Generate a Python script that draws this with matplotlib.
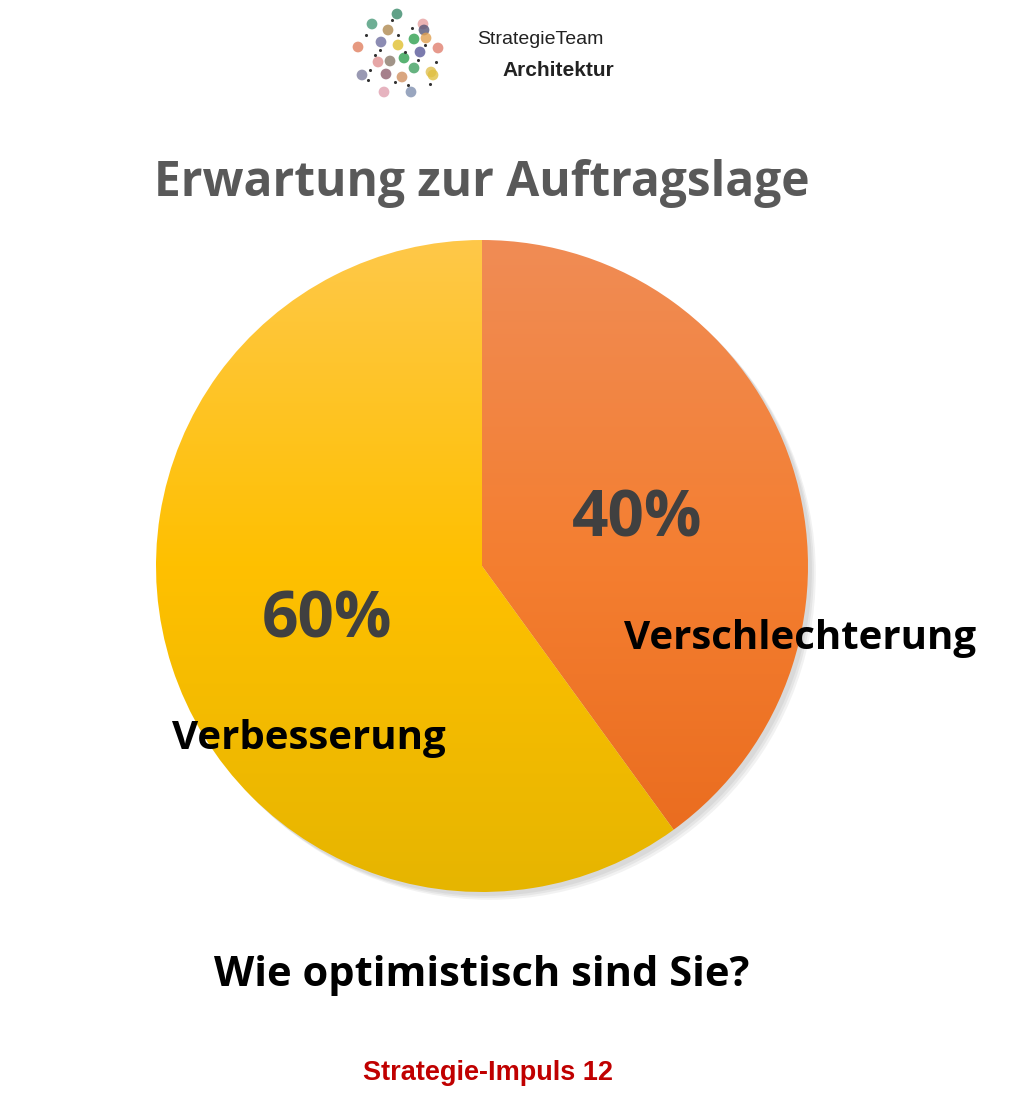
import numpy as np
import matplotlib.pyplot as plt
from matplotlib.colors import LinearSegmentedColormap
from matplotlib.patches import Circle

# data
labels = ['Verschlechterung', 'Verbesserung']
shares = [40, 60]
pct_text = ['40%', '60%']
# gradient colours (top, middle, bottom) per slice
grad_colors = [('#F08C55', '#F47E30', '#E8691C'), ('#FEC849', '#FFC000', '#E6B500')]

fig = plt.figure(figsize=(10.10, 11.12), dpi=100)
fig.patch.set_facecolor('white')

# pie axes placed at the pie's pixel box (with margin for shadow)
W, H = 1010, 1112
cx, cy, r = 482, 566, 326
m = 1.05
ax = fig.add_axes([(cx - m * r) / W, (H - cy - m * r) / H, 2 * m * r / W, 2 * m * r / H])

# soft shadow
for k, a in enumerate([0.05, 0.05, 0.05]):
    ax.add_patch(Circle((0.012 + k * 0.006, -0.012 - k * 0.006), 1.0,
                        color='black', alpha=a, lw=0, zorder=0))

wedges, _ = ax.pie(shares, startangle=90, counterclock=False, radius=1.0,
                   wedgeprops=dict(linewidth=0))
grad = np.linspace(1, 0, 256).reshape(-1, 1)
for w, cols in zip(wedges, grad_colors):
    w.set_facecolor('none')
    cmap = LinearSegmentedColormap.from_list('g', cols[::-1])
    im = ax.imshow(grad, cmap=cmap, extent=[-1, 1, -1, 1], aspect='auto',
                   origin='upper', vmin=0, vmax=1, zorder=1)
    im.set_clip_path(w)
ax.set_xlim(-m, m)
ax.set_ylim(-m, m)
ax.set_aspect('equal')
ax.axis('off')

# slice texts (figure pixel positions)
def px(x, y):
    return x / W, 1 - y / H

fig.text(*px(637, 520), pct_text[0], ha='center', va='center', fontsize=46,
         fontweight='bold', color='#404040', family='Open Sans')
fig.text(*px(327, 621), pct_text[1], ha='center', va='center', fontsize=46,
         fontweight='bold', color='#404040', family='Open Sans')
fig.text(*px(800, 638), labels[0], ha='center', va='center', fontsize=29,
         fontweight='bold', color='black', family='Open Sans')
fig.text(*px(309, 738), labels[1], ha='center', va='center', fontsize=29,
         fontweight='bold', color='black', family='Open Sans')

# titles
fig.text(*px(482, 183), 'Erwartung zur Auftragslage', ha='center', va='center',
         fontsize=34.5, fontweight='bold', color='#595959', family='Open Sans')
fig.text(*px(482, 975), 'Wie optimistisch sind Sie?', ha='center', va='center',
         fontsize=30, fontweight='bold', color='black', family='Open Sans')
fig.text(*px(488, 1073), 'Strategie-Impuls 12', ha='center', va='center',
         fontsize=19.5, fontweight='bold', color='#C00000', family='Liberation Sans')

# logo
fig.text(*px(477, 40), 'StrategieTeam', ha='left', va='center', fontsize=14,
         color='#222222', family='Liberation Sans')
fig.text(*px(502, 70), 'Architektur', ha='left', va='center', fontsize=15,
         fontweight='bold', color='#222222', family='Liberation Sans')
logo_x = [397, 372, 388, 423, 424, 381, 398, 414, 426, 358, 438, 420, 404, 378,
          390, 414, 431, 362, 386, 402, 433, 384, 411]
logo_y = [14, 24, 30, 24, 30, 42, 45, 39, 38, 47, 48, 52, 58, 62, 61, 68, 72,
          75, 74, 77, 75, 92, 92]
logo_c = ['#3a8a6a', '#4a9a7a', '#b08a50', '#e6a0a0', '#555577', '#7070a0',
          '#e0c030', '#30a050', '#e0a050', '#e08060', '#e08070', '#5a5a9a',
          '#30a050', '#e09090', '#8a7a6a', '#40a060', '#e0c050', '#8080a0',
          '#906070', '#d09060', '#e0c040', '#e0a0b0', '#8090b0']
lax = fig.add_axes([0, 0, 1, 1], zorder=-1)
lax.set_xlim(0, W)
lax.set_ylim(H, 0)
lax.axis('off')
lax.scatter(logo_x, logo_y, s=60, c=logo_c, alpha=0.8, lw=0)
dot_x = [366, 380, 392, 405, 412, 370, 395, 418, 436, 375, 408, 430, 368, 398, 425]
dot_y = [35, 50, 20, 52, 28, 70, 82, 60, 62, 55, 85, 84, 80, 35, 45]
lax.scatter(dot_x, dot_y, s=5, c='#333333', lw=0)

fig.savefig('out.png', dpi=100, facecolor='white')
